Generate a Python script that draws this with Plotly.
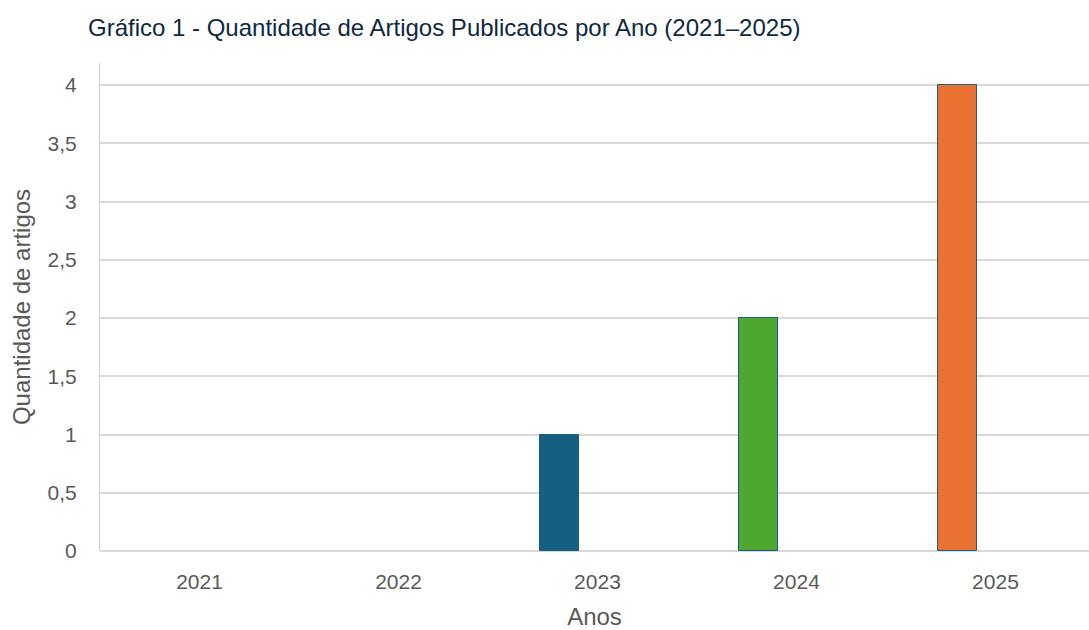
import plotly.graph_objects as go

anos = ["2021", "2022", "2023", "2024", "2025"]
quantidade = [0, 0, 1, 2, 4]
cores = ["#156082", "#156082", "#156082", "#4EA72E", "#E97132"]
contorno = [0, 0, 1, 1, 1]
y_ticks = [0, 0.5, 1, 1.5, 2, 2.5, 3, 3.5, 4]

fig = go.Figure()
fig.add_trace(go.Bar(
    x=anos, y=quantidade,
    marker=dict(color=cores, line=dict(color="#156082", width=contorno)),
    width=0.196, offset=-0.289,
    showlegend=False,
))

font_family = "Liberation Sans"
fig.update_layout(
    width=1089, height=630,
    margin=dict(l=100, r=0, t=63, b=79, autoexpand=False),
    paper_bgcolor="white", plot_bgcolor="white",
    separators=",.",
    font=dict(family=font_family, color="#595959"),
    title=dict(
        text="Gráfico 1 - Quantidade de Artigos Publicados por Ano (2021–2025)",
        x=88/1089, xanchor="left", y=1-28/630, yanchor="middle",
        font=dict(family=font_family, size=24, color="#0E2841"),
        automargin=False,
    ),
    bargap=0,
)
fig.update_xaxes(
    type="category", range=[-0.5, 4.47], automargin=False,
    showgrid=False, showline=False, ticks="", zeroline=False,
    tickfont=dict(size=21, color="#595959"), ticklabelstandoff=16,
    title=dict(text="Anos", font=dict(size=24, color="#595959"), standoff=24),
)
fig.update_yaxes(
    range=[0, 4.19], tickvals=y_ticks, automargin=False,
    showgrid=True, gridcolor="#d9d9d9", gridwidth=2,
    zeroline=True, zerolinecolor="#d9d9d9", zerolinewidth=2,
    showline=True, linecolor="#d0d0d0", linewidth=1,
    ticks="", ticklabelstandoff=18,
    tickfont=dict(size=21, color="#595959"),
    title=dict(text="Quantidade de artigos", font=dict(size=24, color="#595959"), standoff=10),
)

fig.write_html("out.html", config={"displayModeBar": False},
               post_script="document.body.style.margin='0';")
